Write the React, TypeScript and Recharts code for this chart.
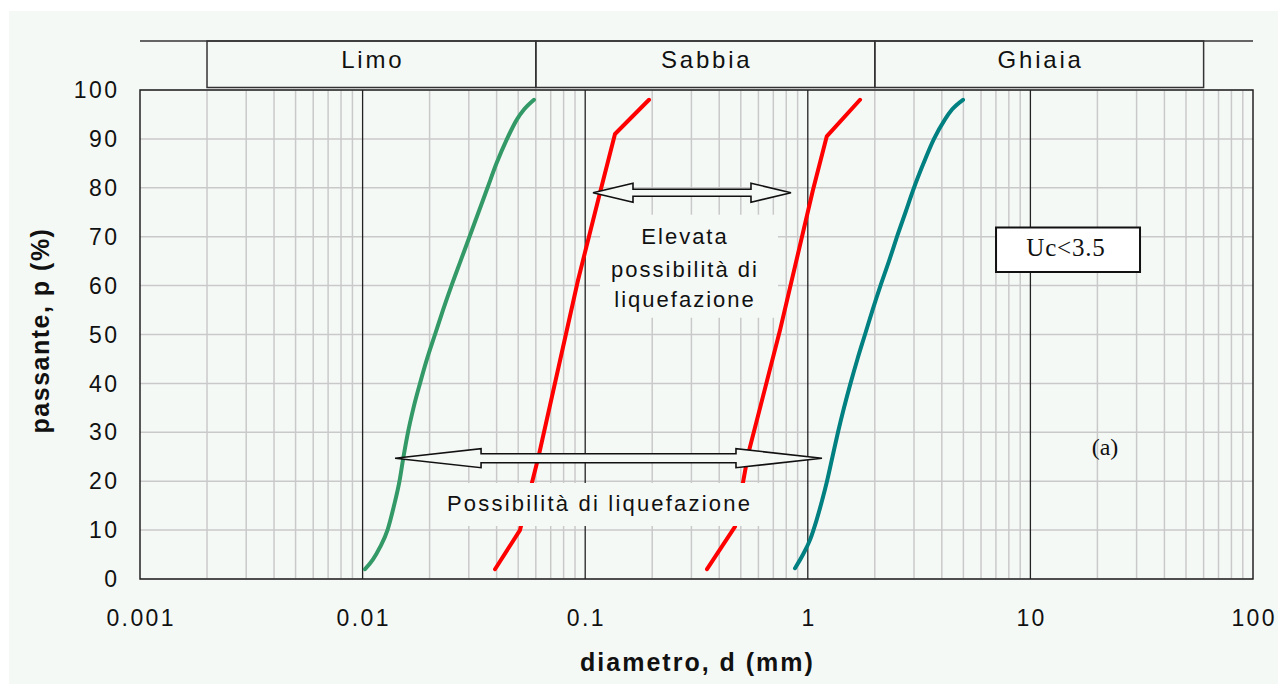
import React from 'react';
import {
  ComposedChart,
  Line,
  XAxis,
  YAxis,
  CartesianGrid,
  ReferenceLine,
  ReferenceArea,
  ReferenceDot,
} from 'recharts';

const BG = '#f5f9f6';
const SANS = '"Liberation Sans", Arial, sans-serif';
const SERIF = '"Liberation Serif", "Times New Roman", serif';

// axes
const xTicks = [0.001, 0.01, 0.1, 1, 10, 100];
const xTickLabels = ['0.001', '0.01', '0.1', '1', '10', '100'];
const yTicks = [0, 10, 20, 30, 40, 50, 60, 70, 80, 90, 100];
const decades = [0.001, 0.01, 0.1, 1, 10];
const minorSteps = [2, 3, 4, 5, 6, 7, 8, 9];
const majorLines = [0.01, 0.1, 1, 10];
const minorLines = decades.flatMap((dec) => minorSteps.map((m) => Number((dec * m).toPrecision(3))));

// soil fractions (top band)
const fractionNames = ['Limo', 'Sabbia', 'Ghiaia'];
const fractionBounds = [0.002, 0.06, 2, 60];
const bandBottom = 100.5;
const bandTop = 110;

// grading curves: diameter d (mm), passing p (%)
const greenD = [0.010251, 0.011135, 0.011973, 0.012936, 0.013837, 0.014646, 0.015265, 0.015991, 0.016929, 0.018108, 0.019472, 0.021146, 0.022967, 0.025084, 0.02753, 0.030218, 0.033168, 0.036402, 0.039958, 0.044545, 0.049378, 0.053097, 0.05888];
const greenP = [2, 4, 6.5, 10, 15, 20, 25, 30, 35, 40, 45, 50, 55, 60, 65, 70, 75, 80, 85, 90, 94, 96, 98];

const red1D = [0.03934, 0.05094, 0.06169, 0.09271, 0.11653, 0.1361, 0.1935];
const red1P = [2, 10, 25, 61, 79, 91, 98];

const red2D = [0.3525, 0.471, 0.5387, 0.7515, 1.0554, 1.2162, 1.7165];
const red2P = [2, 10.7, 25.4, 51, 79.6, 90.5, 98];

const tealD = [0.876, 0.95156, 1.02302, 1.0942, 1.1583, 1.21975, 1.29088, 1.36651, 1.45411, 1.55544, 1.67198, 1.80708, 1.9533, 2.12125, 2.31579, 2.51621, 2.74792, 2.99961, 3.31006, 3.68883, 4.13355, 4.44421, 4.98003];
const tealP = [2.2, 5, 8, 12, 16, 20, 25, 30, 35, 40, 45, 50, 55, 60, 65, 70, 75, 80, 85, 90, 94, 96, 98];

// annotations (data coordinates)
const upperArrowD = [0.1084, 0.8404];
const upperArrowP = 79;
const lowerArrowD = [0.01399, 1.158];
const lowerArrowP = 24.7;
const elevataBoxD = [0.1166, 0.7348];
const elevataBoxP = [53.4, 74.5];
const elevataLines = ['Elevata', 'possibilità di', 'liquefazione'];
const possBoxD = [0.0216, 0.61];
const possBoxP = [10.85, 19.65];
const possText = 'Possibilità di liquefazione';
const ucBoxD = [7.008, 31.08];
const ucBoxP = [62.8, 71.9];
const ucText = 'Uc<3.5';
const tagPos = { d: 21.63, p: 27 };
const tagText = '(a)';

const toPoints = (d: number[], p: number[]) => d.map((v, i) => ({ d: v, p: p[i] }));
const greenData = toPoints(greenD, greenP);
const red1Data = toPoints(red1D, red1P);
const red2Data = toPoints(red2D, red2P);
const tealData = toPoints(tealD, tealP);

const makeArrow = (headLen: number, headHalf: number, shaftHalf: number) => (props: any) => {
  const { x1, y1, x2 } = props;
  const y = y1;
  const L = Math.min(x1, x2);
  const R = Math.max(x1, x2);
  const pts = [
    [L, y],
    [L + headLen, y - headHalf],
    [L + headLen, y - shaftHalf],
    [R - headLen, y - shaftHalf],
    [R - headLen, y - headHalf],
    [R, y],
    [R - headLen, y + headHalf],
    [R - headLen, y + shaftHalf],
    [L + headLen, y + shaftHalf],
    [L + headLen, y + headHalf],
  ]
    .map((q) => q.join(','))
    .join(' ');
  return <polygon points={pts} fill={BG} stroke="#111" strokeWidth={1.6} strokeLinejoin="miter" />;
};

const XTick = (props: any) => {
  const { x, y, payload } = props;
  const idx = xTicks.indexOf(payload.value);
  const label = idx >= 0 ? xTickLabels[idx] : String(payload.value);
  return (
    <text x={x + 1.2} y={y} dy="0.71em" textAnchor="middle" fill="#111"
      style={{ fontFamily: SANS, fontSize: 23, letterSpacing: '2.4px' }}>
      {label}
    </text>
  );
};

const YTick = (props: any) => {
  const { x, y, payload } = props;
  return (
    <text x={x + 2.4} y={y} dy="0.355em" textAnchor="end" fill="#111"
      style={{ fontFamily: SANS, fontSize: 23, letterSpacing: '2.4px' }}>
      {payload.value}
    </text>
  );
};

const xLabel = (props: any) => {
  const vb = props.viewBox;
  return (
    <text x={vb.x + vb.width / 2 + 1} y={vb.y + 92} textAnchor="middle" fill="#111"
      style={{ fontFamily: SANS, fontSize: 25, fontWeight: 'bold', letterSpacing: '2px' }}>
      diametro, d (mm)
    </text>
  );
};

const yLabel = (props: any) => {
  const vb = props.viewBox;
  const cx = vb.x - 31;
  const cy = vb.y + vb.height / 2 - 4;
  return (
    <text x={cx} y={cy} textAnchor="middle" fill="#111" transform={`rotate(-90, ${cx}, ${cy})`}
      style={{ fontFamily: SANS, fontSize: 25, fontWeight: 'bold', letterSpacing: '1.5px' }}>
      passante, p (%)
    </text>
  );
};

const bandLabel = (name: string) => (props: any) => {
  const vb = props.viewBox;
  return (
    <text x={vb.x + vb.width / 2 + 1.4} y={vb.y + vb.height / 2 + 3.5} textAnchor="middle" fill="#111"
      style={{ fontFamily: SANS, fontSize: 24, letterSpacing: '2.8px' }}>
      {name}
    </text>
  );
};

const elevataLabel = (props: any) => {
  const vb = props.viewBox;
  const cx = vb.x + vb.width / 2 - 4;
  const offs = [29.5, 62, 92];
  return (
    <g>
      {elevataLines.map((t, i) => (
        <text key={t} x={cx} y={vb.y + offs[i]} textAnchor="middle" fill="#111"
          style={{ fontFamily: SANS, fontSize: 22, letterSpacing: '2px' }}>
          {t}
        </text>
      ))}
    </g>
  );
};

const possLabel = (props: any) => {
  const vb = props.viewBox;
  return (
    <text x={vb.x + vb.width / 2 + 1} y={vb.y + 28} textAnchor="middle" fill="#111"
      style={{ fontFamily: SANS, fontSize: 22, letterSpacing: '2.2px' }}>
      {possText}
    </text>
  );
};

const ucLabel = (props: any) => {
  const vb = props.viewBox;
  return (
    <text x={vb.x + vb.width / 2 - 2} y={vb.y + 29} textAnchor="middle" fill="#111"
      style={{ fontFamily: SERIF, fontSize: 25, letterSpacing: '0.8px' }}>
      {ucText}
    </text>
  );
};

const tagLabel = (props: any) => {
  const vb = props.viewBox;
  const cx = vb.x + (vb.width || 0) / 2;
  const cy = vb.y + (vb.height || 0) / 2;
  return (
    <text x={cx} y={cy + 8} textAnchor="middle" fill="#111" style={{ fontFamily: SERIF, fontSize: 24 }}>
      {tagText}
    </text>
  );
};

export default function App() {
  return (
    <div style={{ position: 'absolute', left: 0, top: 0, width: 1278, height: 684, background: '#ffffff' }}>
      <div style={{ position: 'absolute', left: 9, top: 11, width: 1269, height: 673, background: BG }} />
      <div style={{ position: 'absolute', left: 0, top: 0 }}>
        <ComposedChart width={1278} height={684} margin={{ top: 90, right: 25, bottom: 35, left: 80 }}>
          <CartesianGrid vertical={false} stroke="#c9c9c9" strokeWidth={1.5} />
          <XAxis
            dataKey="d"
            type="number"
            scale="log"
            domain={[0.001, 100]}
            allowDataOverflow
            ticks={xTicks}
            interval={0}
            axisLine={false}
            tickLine={false}
            tickSize={0}
            tickMargin={31}
            height={70}
            tick={XTick}
            label={xLabel}
          />
          <YAxis
            dataKey="p"
            type="number"
            domain={[0, 100]}
            allowDataOverflow
            ticks={yTicks}
            interval={0}
            axisLine={false}
            tickLine={false}
            tickSize={0}
            tickMargin={23}
            width={60}
            tick={YTick}
            label={yLabel}
          />
          {minorLines.map((v) => (
            <ReferenceLine key={'m' + v} x={v} stroke="#c9c9c9" strokeWidth={1.5} zIndex={-95} />
          ))}
          {majorLines.map((v) => (
            <ReferenceLine key={'M' + v} x={v} stroke="#222" strokeWidth={1.3} zIndex={-90} />
          ))}
          <ReferenceArea x1={0.001} x2={100} y1={0} y2={100} fill="none" stroke="#222" strokeWidth={1.5} zIndex={-85} />

          <ReferenceLine
            segment={[{ x: 0.001, y: bandTop }, { x: 100, y: bandTop }]}
            ifOverflow="visible"
            stroke="#333"
            strokeWidth={1.5}
          />
          {fractionNames.map((name, i) => (
            <ReferenceArea
              key={name}
              x1={fractionBounds[i]}
              x2={fractionBounds[i + 1]}
              y1={bandBottom}
              y2={bandTop}
              ifOverflow="visible"
              fill="none"
              stroke="#333"
              strokeWidth={1.5}
              label={bandLabel(name)}
            />
          ))}

          <Line data={greenData} dataKey="p" type="monotone" stroke="#339966" strokeWidth={4}
            strokeLinecap="round" strokeLinejoin="round" dot={false} activeDot={false} isAnimationActive={false} />
          <Line data={red1Data} dataKey="p" type="linear" stroke="#ff0000" strokeWidth={4}
            strokeLinecap="round" strokeLinejoin="round" dot={false} activeDot={false} isAnimationActive={false} />
          <Line data={red2Data} dataKey="p" type="linear" stroke="#ff0000" strokeWidth={4}
            strokeLinecap="round" strokeLinejoin="round" dot={false} activeDot={false} isAnimationActive={false} />
          <Line data={tealData} dataKey="p" type="monotone" stroke="#008080" strokeWidth={4}
            strokeLinecap="round" strokeLinejoin="round" dot={false} activeDot={false} isAnimationActive={false} />

          <ReferenceArea x1={elevataBoxD[0]} x2={elevataBoxD[1]} y1={elevataBoxP[0]} y2={elevataBoxP[1]}
            fill={BG} fillOpacity={1} stroke="none" zIndex={450} label={elevataLabel} />
          <ReferenceArea x1={possBoxD[0]} x2={possBoxD[1]} y1={possBoxP[0]} y2={possBoxP[1]}
            fill={BG} fillOpacity={1} stroke="none" zIndex={450} label={possLabel} />

          <ReferenceLine
            segment={[{ x: upperArrowD[0], y: upperArrowP }, { x: upperArrowD[1], y: upperArrowP }]}
            shape={makeArrow(40, 9.5, 3.5)}
            zIndex={460}
          />
          <ReferenceLine
            segment={[{ x: lowerArrowD[0], y: lowerArrowP }, { x: lowerArrowD[1], y: lowerArrowP }]}
            shape={makeArrow(86, 9.5, 4.5)}
            zIndex={460}
          />

          <ReferenceArea x1={ucBoxD[0]} x2={ucBoxD[1]} y1={ucBoxP[0]} y2={ucBoxP[1]}
            fill="#ffffff" fillOpacity={1} stroke="#111" strokeWidth={2} zIndex={470} label={ucLabel} />
          <ReferenceDot x={tagPos.d} y={tagPos.p} r={0} fill="none" stroke="none" zIndex={470} label={tagLabel} />
        </ComposedChart>
      </div>
    </div>
  );
}
